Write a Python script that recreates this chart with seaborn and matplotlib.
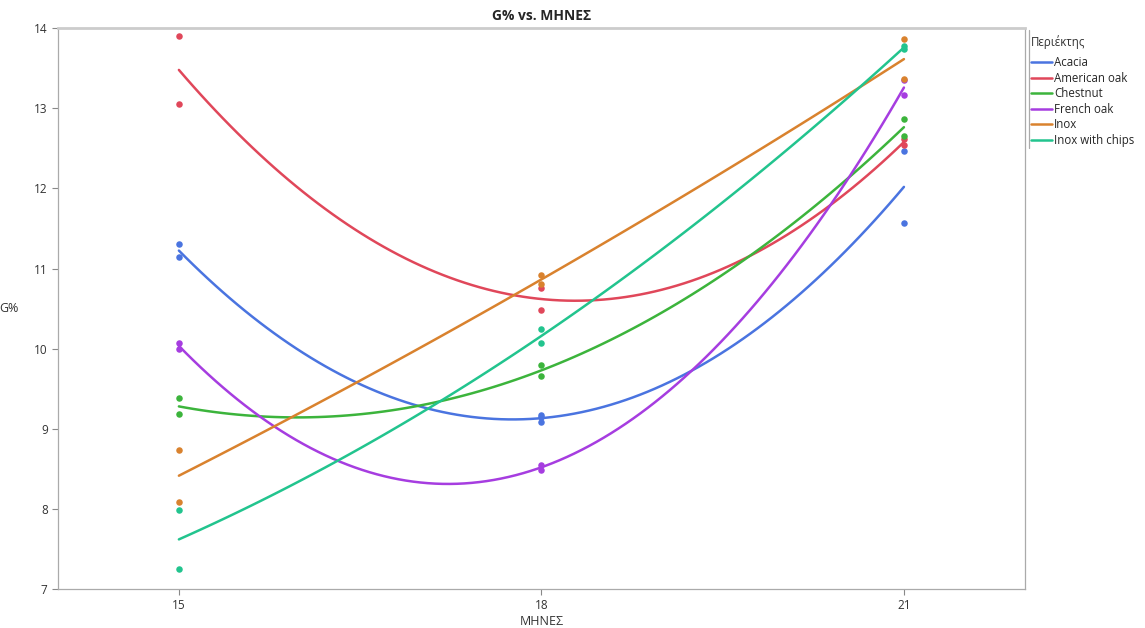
import matplotlib
matplotlib.use("Agg")
import matplotlib.pyplot as plt
import seaborn as sns
import pandas as pd
from matplotlib.lines import Line2D

sns.set_style("white")
plt.rcParams['font.family'] = ['Open Sans', 'DejaVu Sans']

series = ["Acacia", "American oak", "Chestnut", "French oak", "Inox", "Inox with chips"]
colors = ["#4a74e0", "#e0475a", "#3cb43c", "#a63de0", "#d9822e", "#22c48e"]

acacia_x = [15, 15, 18, 18, 18, 21, 21]
acacia_y = [11.31, 11.14, 9.17, 9.15, 9.08, 12.47, 11.57]
american_x = [15, 15, 18, 18, 21, 21]
american_y = [13.90, 13.06, 10.76, 10.48, 12.62, 12.54]
chestnut_x = [15, 15, 18, 18, 21, 21]
chestnut_y = [9.38, 9.18, 9.80, 9.66, 12.87, 12.66]
french_x = [15, 15, 18, 18, 21, 21]
french_y = [10.07, 10.00, 8.55, 8.49, 13.17, 13.35]
inox_x = [15, 15, 18, 18, 21, 21]
inox_y = [8.74, 8.09, 10.92, 10.81, 13.86, 13.37]
chips_x = [15, 15, 18, 18, 21, 21]
chips_y = [7.99, 7.25, 10.25, 10.07, 13.78, 13.74]

xs = [acacia_x, american_x, chestnut_x, french_x, inox_x, chips_x]
ys = [acacia_y, american_y, chestnut_y, french_y, inox_y, chips_y]

frames = []
for name, xv, yv in zip(series, xs, ys):
    frames.append(pd.DataFrame({"ΜΗΝΕΣ": xv, "G%": yv, "Περιέκτης": name}))
df = pd.concat(frames, ignore_index=True)

fig = plt.figure(figsize=(11.45, 6.28), dpi=100)
ax = fig.add_axes([0.0507, 0.062, 0.895 - 0.0507, 0.955 - 0.062])

for name, col in zip(series, colors):
    sub = df[df["Περιέκτης"] == name]
    sns.regplot(data=sub, x="ΜΗΝΕΣ", y="G%", order=2, ci=None, ax=ax, color=col,
                scatter_kws={"s": 22, "alpha": 1, "linewidths": 0},
                line_kws={"lw": 1.8})

ax.set_xlim(14.0, 22.0)
ax.set_ylim(7, 14)
ax.set_xticks([15, 18, 21])
ax.set_yticks(range(7, 15))
ax.tick_params(axis="both", direction="out", length=4, width=0.8, color="#888888",
               labelsize=8.5, labelcolor="#333333", left=True, bottom=True)
for s in ax.spines.values():
    s.set_color("#aaaaaa")
    s.set_linewidth(0.9)
ax.spines["top"].set_color("#cccccc")
ax.spines["top"].set_linewidth(2)

ax.set_xlabel("ΜΗΝΕΣ", fontsize=9, color="#333333", labelpad=2)
ax.set_ylabel("G%", fontsize=9, color="#333333", rotation=0, labelpad=18, va="center")
ax.set_title("G% vs. ΜΗΝΕΣ", fontsize=10, fontweight="bold", pad=6)

handles = [Line2D([0], [0], color=c, lw=1.8) for c in colors]
leg = fig.legend(handles, series, loc="upper left",
                 bbox_to_anchor=(0.8935, 0.9236), frameon=False, fontsize=8.3,
                 handlelength=1.85, handletextpad=0.15,
                 labelspacing=0.22, borderaxespad=0.3)
fig.text(1031 / 1145, 1 - 42 / 628, "Περιέκτης", fontsize=8.3, color="#333333",
         ha="left", va="center")
fig.add_artist(Line2D([0.8985, 0.8985], [0.765, 0.952], color="#aaaaaa", lw=0.9,
                      transform=fig.transFigure))

fig.savefig("out.png", dpi=100)
